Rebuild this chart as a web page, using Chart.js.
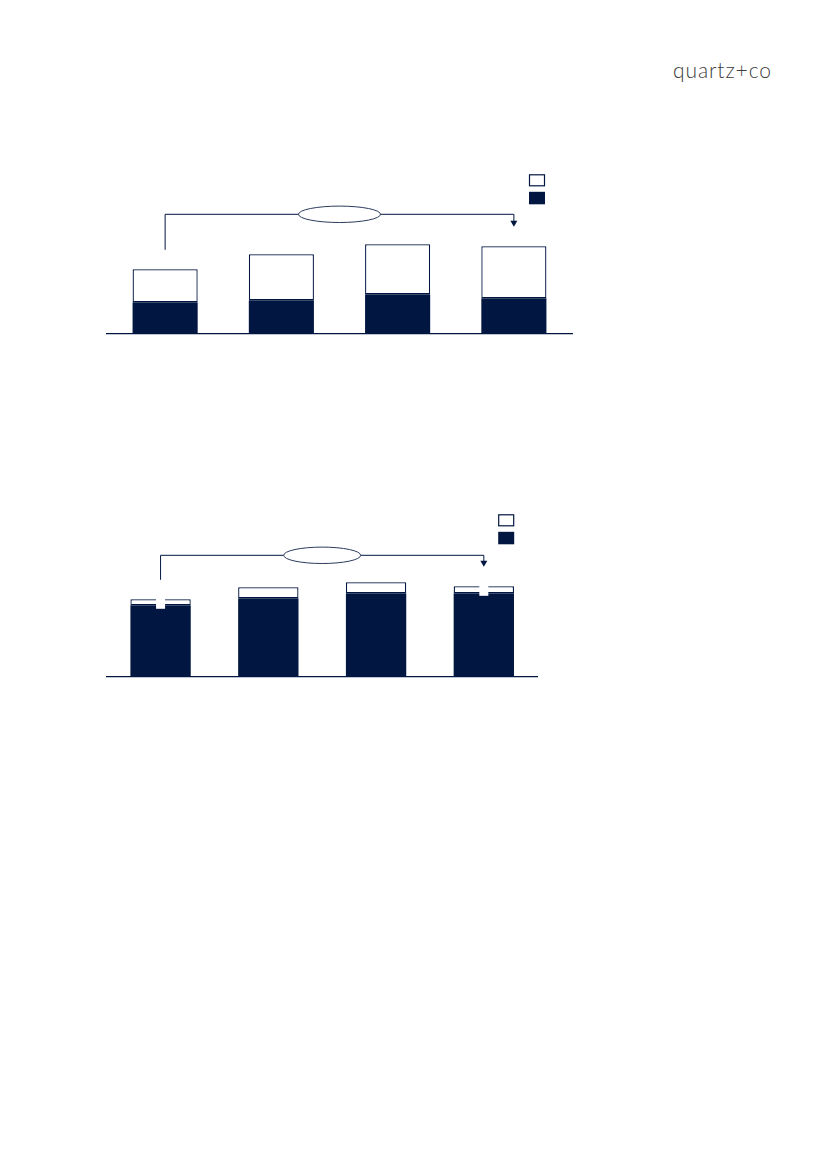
<!DOCTYPE html>
<html>
<head>
<meta charset="utf-8">
<script src="https://cdn.jsdelivr.net/npm/chart.js@4"></script>
<style>
  body { margin: 0; background: #fff; }
  .page { position: relative; width: 827px; height: 1169px; }
  .logo {
    position: absolute; left: 673px; top: 57px;
    font-family: "Lato", "Open Sans", sans-serif; font-weight: 300;
    font-size: 21px; color: #3c3c3c; letter-spacing: 0.9px;
  }
  .box { position: absolute; left: 0; width: 827px; height: 200px; }
</style>
</head>
<body>
<div class="page">
  <div class="logo">quartz+co</div>
  <div class="box" style="top:150px"><canvas id="chartTop"></canvas></div>
  <div class="box" style="top:490px"><canvas id="chartBottom"></canvas></div>
</div>
<script>
const NAVY = "#011640";

const categories = ["A", "B", "C", "D"];

// top chart
const topDark = [31, 33, 39, 35];
const topLight = [33, 46, 50, 52];

// bottom chart
const bottomDark = [71, 78, 83, 83];
const bottomLight = [6, 11, 11, 7];

// bracket + legend + masks drawn around the bars
const bracketPlugin = {
  id: "bracket",
  afterDraw(chart, args, opts) {
    const ctx = chart.ctx;
    const area = chart.chartArea;
    const y = chart.scales.y;
    const light = chart.getDatasetMeta(1).data;
    const first = light[0];
    const last = light[light.length - 1];
    const level = y.getPixelForValue(opts.level);

    ctx.save();
    // masks over bar tops
    ctx.fillStyle = "#fff";
    (opts.masks || []).forEach((i) => {
      const b = light[i];
      ctx.fillRect(b.x - 4.5, b.y - 1.5, 9, 11);
    });

    ctx.strokeStyle = NAVY;
    ctx.lineWidth = 1;
    ctx.beginPath();
    ctx.moveTo(first.x, first.y - opts.gap);
    ctx.lineTo(first.x, level);
    ctx.lineTo(last.x, level);
    ctx.lineTo(last.x, last.y - opts.gap - 5);
    ctx.stroke();

    ctx.fillStyle = NAVY;
    ctx.beginPath();
    ctx.moveTo(last.x - 3.5, last.y - opts.gap - 6);
    ctx.lineTo(last.x + 3.5, last.y - opts.gap - 6);
    ctx.lineTo(last.x, last.y - opts.gap);
    ctx.closePath();
    ctx.fill();

    // oval in the middle of the bracket
    ctx.beginPath();
    ctx.ellipse((first.x + last.x) / 2, level, opts.ovalW / 2, 8.2, 0, 0, 2 * Math.PI);
    ctx.fillStyle = "#fff";
    ctx.fill();
    ctx.strokeStyle = "#2a3a5c";
    ctx.stroke();

    // legend squares
    const lx = area.right - opts.legendRight;
    const ly = area.bottom - opts.legendTop;
    ctx.fillStyle = "#fff";
    ctx.strokeStyle = NAVY;
    ctx.lineWidth = 1.2;
    ctx.fillRect(lx, ly, 16, 12);
    ctx.strokeRect(lx + 0.5, ly + 0.5, 15, 11);
    ctx.fillStyle = NAVY;
    ctx.fillRect(lx, ly + 17.5, 16, 12.5);
    ctx.restore();
  },
};

function makeChart(id, dark, light, pad, extra) {
  new Chart(document.getElementById(id).getContext("2d"), {
    type: "bar",
    data: {
      labels: categories,
      datasets: [
        {
          data: dark,
          backgroundColor: NAVY,
          borderWidth: 0,
          barPercentage: 0.56,
          categoryPercentage: 1,
        },
        {
          data: light,
          backgroundColor: "#fff",
          borderColor: NAVY,
          borderWidth: 1.3,
          borderSkipped: false,
          barPercentage: 0.56,
          categoryPercentage: 1,
        },
      ],
    },
    options: {
      responsive: true,
      maintainAspectRatio: false,
      animation: false,
      layout: { padding: pad },
      plugins: {
        legend: { display: false },
        tooltip: { enabled: false },
        bracket: extra,
      },
      scales: {
        x: {
          stacked: true,
          grid: { display: false },
          border: { display: true, color: NAVY, width: 1.2 },
          ticks: { display: false },
          afterFit: (s) => { s.height = 0; },
        },
        y: {
          stacked: true,
          display: false,
          min: 0,
          max: 120,
        },
      },
    },
    plugins: [bracketPlugin],
  });
}

makeChart("chartTop", topDark, topLight,
  { left: 107, right: 255, top: 63.3, bottom: 16.7 },
  { level: 119, gap: 19.5, ovalW: 82, legendRight: 43, legendTop: 159, masks: [] });

makeChart("chartBottom", bottomDark, bottomLight,
  { left: 106.7, right: 289.3, top: 66.3, bottom: 13.7 },
  { level: 121, gap: 19.5, ovalW: 77, legendRight: 39.5, legendTop: 162, masks: [0, 3] });
</script>
</body>
</html>
